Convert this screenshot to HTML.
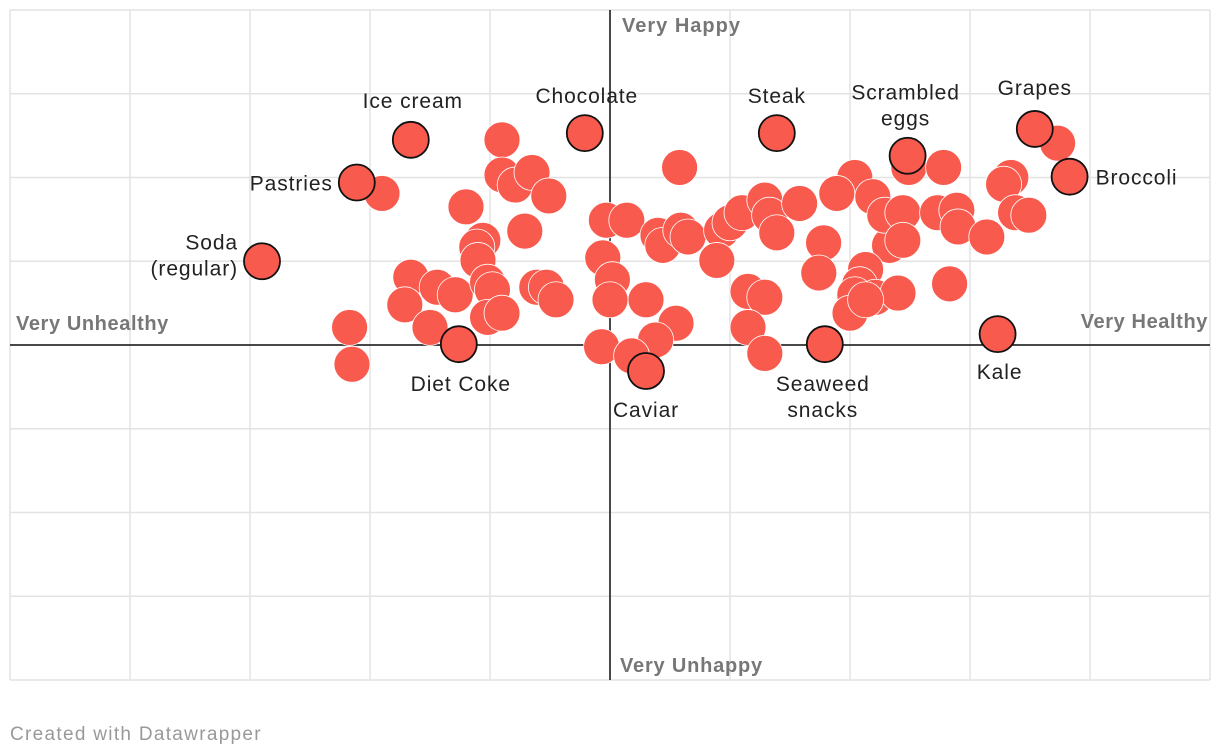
<!DOCTYPE html>
<html><head><meta charset="utf-8">
<style>
html,body{margin:0;padding:0;background:#fff;width:1220px;height:756px;overflow:hidden;font-family:"Liberation Sans",sans-serif;}
svg text{font-family:"Liberation Sans",sans-serif;}
</style></head>
<body>
<svg id="chart" width="1220" height="756" xmlns="http://www.w3.org/2000/svg">
<g id="grid"></g>
<g id="axes"></g>
<g id="dots"></g>
<g id="labels"></g>
<text x="622" y="32" font-size="20" font-weight="bold" fill="#777" letter-spacing="1">Very Happy</text>
<text x="620" y="672" font-size="20" font-weight="bold" fill="#777" letter-spacing="0.8">Very Unhappy</text>
<text x="16" y="330" font-size="20" font-weight="bold" fill="#777" letter-spacing="0.6">Very Unhealthy</text>
<text x="1208" y="328" font-size="20" font-weight="bold" fill="#777" text-anchor="end" letter-spacing="0.6">Very Healthy</text>
<text x="10" y="740" font-size="19" fill="#999" letter-spacing="1.3">Created with Datawrapper</text>
</svg>
<script>
// health (x, -5..5), happiness (y, -4..4)
const unlabeledX=[-0.9,0.58,3.73,2.49,2.78,2.04,2.19,1.89,3.34,3.28,-1.9,-1.2,-0.9,-0.79,-0.65,-0.51,-0.71,-1.06,-1.11,-1.1,-0.03,0.14,0.4,0.44,0.59,0.65,0.93,1.0,1.1,1.29,1.33,1.39,1.58,1.78,2.33,2.29,2.44,2.44,2.73,2.89,2.9,3.14,3.38,3.49,-0.06,0.02,0.0,0.3,0.89,1.15,1.29,1.74,2.13,2.08,2.04,2.21,2.4,2.83,-1.66,-1.44,-1.29,-1.02,-0.98,-1.71,-0.61,-0.53,-0.45,-2.17,-2.15,-1.5,-1.02,-0.9,0.55,0.38,-0.07,0.18,1.15,1.29,2.0,2.13];
const unlabeledY=[2.45,2.12,2.41,2.12,2.12,2.0,1.77,1.81,2.0,1.92,1.81,1.65,2.03,1.91,2.06,1.78,1.36,1.25,1.17,1.01,1.49,1.49,1.31,1.19,1.37,1.29,1.37,1.46,1.58,1.73,1.55,1.34,1.69,1.22,1.19,1.55,1.58,1.25,1.58,1.61,1.41,1.29,1.58,1.55,1.04,0.78,0.54,0.54,1.01,0.64,0.57,0.86,0.9,0.72,0.6,0.57,0.62,0.73,0.81,0.69,0.6,0.75,0.66,0.48,0.69,0.69,0.54,0.21,-0.23,0.21,0.33,0.38,0.26,0.06,-0.02,-0.13,0.21,-0.1,0.38,0.54];
const labelNames=["Ice cream","Chocolate","Steak","Scrambled eggs","Grapes","Broccoli","Pastries","Soda (regular)","Diet Coke","Caviar","Seaweed snacks","Kale"];
const labeledX=[-1.66,-0.21,1.39,2.48,3.54,3.83,-2.11,-2.9,-1.26,0.3,1.79,3.23];
const labeledY=[2.45,2.53,2.53,2.26,2.58,2.01,1.94,1.0,0.01,-0.31,0.01,0.13];
const ticksX=[-5,-4,-3,-2,-1,0,1,2,3,4,5];
const ticksY=[-4,-3,-2,-1,0,1,2,3,4];

const ns="http://www.w3.org/2000/svg";
const sx=v=>610+v*120, sy=v=>345-v*83.75;
function mk(t,a,p){const e=document.createElementNS(ns,t);for(const k in a)e.setAttribute(k,a[k]);p.appendChild(e);return e;}
const grid=document.getElementById('grid'),axes=document.getElementById('axes'),dots=document.getElementById('dots'),labels=document.getElementById('labels');
ticksX.forEach(v=>{const l=mk('line',{x1:sx(v),x2:sx(v),y1:sy(4),y2:sy(-4),stroke:'#e3e3e3','stroke-width':1.5},grid);

});
ticksY.forEach(v=>{const l=mk('line',{x1:sx(-5),x2:sx(5),y1:sy(v),y2:sy(v),stroke:'#e3e3e3','stroke-width':1.5},grid);

});
let a1=mk('line',{x1:sx(0),x2:sx(0),y1:sy(4),y2:sy(-4),stroke:'#111','stroke-width':1.5},axes);


let a2=mk('line',{x1:sx(-5),x2:sx(5),y1:sy(0),y2:sy(0),stroke:'#111','stroke-width':1.5},axes);


unlabeledX.forEach((x,i)=>{const c=mk('circle',{cx:sx(x),cy:sy(unlabeledY[i]),r:18,fill:'#f95a4e',stroke:'#fff','stroke-width':0.8},dots);

});
const lOff=[[2,-32,'middle'],[2,-30,'middle'],[0,-30,'middle'],[-2,-56,'middle'],[0,-34,'middle'],[26,8,'start'],[-24,8,'end'],[-24,-12,'end'],[2,47,'middle'],[0,46,'middle'],[-2,47,'middle'],[2,45,'middle']];
labeledX.forEach((x,i)=>{const cx=sx(x),cy=sy(labeledY[i]);
const c=mk('circle',{cx:cx,cy:cy,r:18,fill:'#f95a4e',stroke:'#111','stroke-width':1.8},dots);


const o=lOff[i];const parts=(labelNames[i]==='Scrambled eggs'||labelNames[i]==='Seaweed snacks'||labelNames[i]==='Soda (regular)')?labelNames[i].split(' '):[labelNames[i]];
const t=mk('text',{x:cx+o[0],y:cy+o[1],'font-size':21,fill:'#222','text-anchor':o[2],'letter-spacing':0.9},labels);


parts.forEach((p,j)=>{const s=mk('tspan',{x:cx+o[0],dy:j?26:0},t);s.textContent=p;});
});
</script>
</body></html>
